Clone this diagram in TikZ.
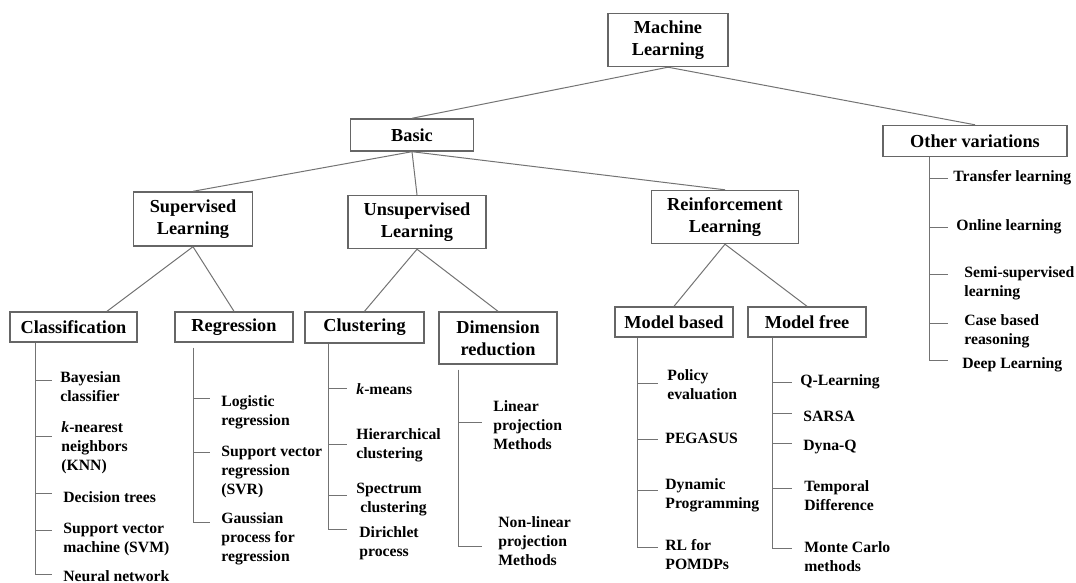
\documentclass[tikz,border=0pt]{standalone}
\usepackage{fontspec}
\setmainfont{Liberation Serif}
\usepackage{tikz}
\tikzset{box/.style={draw=black!60,line width=0.7pt,inner sep=0pt,align=center,
   font=\fontsize{9.15}{10.8}\selectfont\bfseries},
 leaf/.style={anchor=west,inner sep=0pt,align=left,
   font=\fontsize{7.85}{9.5}\selectfont\bfseries},
 link/.style={draw=black!55,line width=0.5pt},
 }

\begin{document}
\begin{tikzpicture}[x=0.5pt,y=-0.5pt]
        \useasboundingbox (0,0) rectangle (1076,583);

        \node[box,minimum width=60pt,minimum height=26.5pt] (ml) at (668,40) {Machine\\Learning};
        \node[box,minimum width=61.5pt,minimum height=16pt] (basic) at (412,135) {Basic};
        \node[box,minimum width=92pt,minimum height=15.5pt] (other) at (975,141) {Other variations};
        \node[box,minimum width=59.5pt,minimum height=27pt] (sup) at (193,219) {Supervised\\Learning};
        \node[box,minimum width=69pt,minimum height=26.5pt] (unsup) at (417,222) {Unsupervised\\Learning};
        \node[box,minimum width=73.5pt,minimum height=26.5pt] (reinf) at (725,217) {Reinforcement\\Learning};
        \node[box,minimum width=63.5pt,minimum height=15pt] (cls) at (73.5,327) {Classification};
        \node[box,minimum width=59pt,minimum height=15pt] (reg) at (234,327) {Regression};
        \node[box,minimum width=59.5pt,minimum height=15.5pt] (clu) at (364.5,327.5) {Clustering};
        \node[box,minimum width=59pt,minimum height=26pt] (dim) at (498,338) {Dimension\\reduction};
        \node[box,minimum width=59pt,minimum height=15pt] (mb) at (674,322) {Model based};
        \node[box,minimum width=59pt,minimum height=15pt] (mf) at (807,322) {Model free};

        \draw[link] (ml.south) -- (basic.north);
        \draw[link] (ml.south) -- (other.north);
        \draw[link] (basic.south) -- (sup.north);
        \draw[link] (basic.south) -- (unsup.north);
        \draw[link] (basic.south) -- (reinf.north);
        \draw[link] (sup.south) -- ([xshift=16.75pt]cls.north);
        \draw[link] (sup.south) -- (reg.north);
        \draw[link] (unsup.south) -- (clu.north);
        \draw[link] (unsup.south) -- (dim.north);
        \draw[link] (reinf.south) -- (mb.north);
        \draw[link] (reinf.south) -- (mf.north);

        \draw[link] ([xshift=-19.25pt]cls.south) |- (52,574);
        \foreach \y in {380,436,493,530} \draw[link] (35,\y) -- +(17,0);
        \node[leaf] (b1) at (60,386.5) {Bayesian\\classifier};
        \node[leaf] (b2) at (61,448) {\textit{k}-nearest\\neighbors\\(KNN)};
        \node[leaf] (b3) at (63,497) {Decision trees};
        \node[leaf] (b4) at (63,539.5) {Support vector\\machine (SVM)};
        \node[leaf] (b5) at (63,576) {Neural network};

        \draw[link] ([xshift=-20.5pt,yshift=-2.5pt]reg.south) |- (210,522);
        \foreach \y in {398,452} \draw[link] (193,\y) -- +(17,0);
        \node[leaf] (r1) at (221,412.5) {Logistic\\regression};
        \node[leaf] (r2) at (221,472) {Support vector\\regression\\(SVR)};
        \node[leaf] (r3) at (221,539) {Gaussian\\process for\\regression};

        \draw[link] ([xshift=-18.25pt]clu.south) |- (347,529);
        \foreach \y in {388,444,495} \draw[link] (328,\y) -- +(19,0);
        \node[leaf] (c1) at (356,389) {\textit{k}-means};
        \node[leaf] (c2) at (356,445.5) {Hierarchical\\clustering};
        \node[leaf] (c3) at (356,499.5) {Spectrum\\\ clustering};
        \node[leaf] (c4) at (359,543) {Dirichlet\\process};

        \draw[link] ([xshift=-20pt,yshift=-2.5pt]dim.south) |- (482,546);
        \draw[link] (458,422) -- +(24,0);
        \node[leaf] (d1) at (493,425.5) {Linear\\projection\\Methods};
        \node[leaf] (d2) at (498,541.5) {Non-linear\\projection\\Methods};

        \draw[link] ([xshift=-18.5pt]mb.south) |- (658,547);
        \foreach \y in {383,439,490} \draw[link] (637,\y) -- +(21,0);
        \node[leaf] (m1) at (667,384.5) {Policy\\evaluation};
        \node[leaf] (m2) at (665,438) {PEGASUS};
        \node[leaf] (m3) at (665,495.5) {Dynamic\\Programming};
        \node[leaf] (m4) at (665,554.5) {RL for\\POMDPs};

        \draw[link] ([xshift=-17.5pt]mf.south) |- (792,548);
        \foreach \y in {382,413,443,488} \draw[link] (772,\y) -- +(20,0);
        \node[leaf] (f1) at (800,382) {Q-Learning};
        \node[leaf] (f2) at (803,416) {SARSA};
        \node[leaf] (f3) at (803,447) {Dyna-Q};
        \node[leaf] (f4) at (804,495.5) {Temporal\\Difference};
        \node[leaf] (f5) at (804,556.5) {Monte Carlo\\methods};

        \draw[link] ([xshift=-23pt]other.south) |- (948,360);
        \foreach \y in {178,227,274,323} \draw[link] (929,\y) -- +(19,0);
        \node[leaf] (o1) at (953,178) {Transfer learning};
        \node[leaf] (o2) at (956,227) {Online learning};
        \node[leaf] (o3) at (964,283.5) {Semi-supervised\\learning};
        \node[leaf] (o4) at (964,331.5) {Case based\\reasoning};
        \node[leaf] (o5) at (962,365) {Deep Learning};
\end{tikzpicture}
\end{document}
